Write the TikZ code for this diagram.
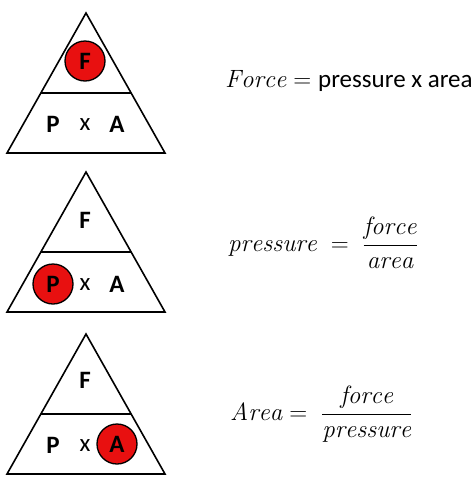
\documentclass[tikz,border=0pt]{standalone}
\usepackage{fontspec}
\usepackage{amsmath}
\usetikzlibrary{calc}
\newfontfamily\calfont{Carlito}
\definecolor{circred}{RGB}{232,16,16}
\begin{document}
\begin{tikzpicture}[x=1pt,y=-1pt,
  tri/.style={draw=black,line width=1.6pt,line join=miter},
  lbl/.style={font=\calfont\bfseries\fontsize{25}{28}\selectfont,inner sep=0pt},
  times/.style={font=\calfont\fontsize{25}{28}\selectfont,inner sep=0pt},
  hot/.style={circle,draw=black,line width=1.3pt,fill=circred,minimum size=40pt,inner sep=0pt,font=\calfont\bfseries\fontsize{25}{28}\selectfont},
  eqn/.style={font=\fontsize{25}{30}\selectfont,inner sep=0pt,anchor=west}]
\useasboundingbox (0,0) rectangle (474,488);
\foreach \i/\dy in {1/0,2/159,3/321}{
  \begin{scope}[yshift=-\dy pt]
    \coordinate (ap\i) at (86,13);
    \coordinate (bl\i) at (7,153);
    \coordinate (br\i) at (165,153);
    \coordinate (dl\i) at ($(ap\i)!0.5714!(bl\i)$);
    \coordinate (dr\i) at ($(ap\i)!0.5714!(br\i)$);
    \draw[tri] (ap\i) -- (bl\i) -- (br\i) -- cycle;
    \draw[tri] (dl\i) -- (dr\i);
  \end{scope}
}
% triangle 1
\node[hot] (f1) at (85,61) {F};
\node[lbl] (p1) at (53,124) {P};
\node[times] (x1) at (85,125) {x};
\node[lbl] (a1) at (117,124) {A};
% triangle 2
\node[lbl] (f2) at (85,220) {F};
\node[hot] (p2) at (53,284) {P};
\node[times] (x2) at (85,285) {x};
\node[lbl] (a2) at (117,284) {A};
% triangle 3
\node[lbl] (f3) at (85,380) {F};
\node[lbl] (p3) at (53,445) {P};
\node[times] (x3) at (85,446) {x};
\node[hot] (a3) at (117,444) {A};
% formulas
\node[eqn] (e1) at (225,81) {$\mathit{Force} = \text{\calfont pressure x area}$};
\node[eqn] (e2) at (228,243) {$\mathit{pressure} \;=\; \dfrac{\mathit{force}}{\mathit{area}}$};
\node[eqn] (e3) at (230,414) {$\mathit{Area} = \;\dfrac{\mathit{force}}{\mathit{pressure}}$};
\end{tikzpicture}
\end{document}
